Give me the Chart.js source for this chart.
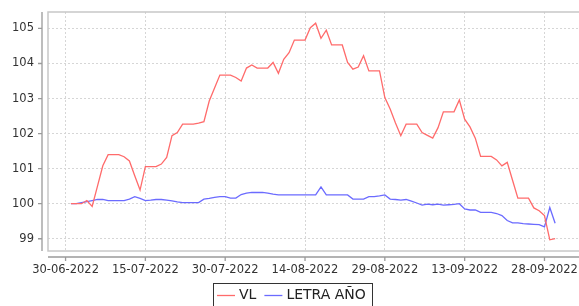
<!DOCTYPE html>
<html><head><meta charset="utf-8">
<script src="https://cdn.jsdelivr.net/npm/chart.js@4"></script>
<style>html,body{margin:0;padding:0;background:#fff;overflow:hidden}</style>
</head><body>
<canvas id="c" width="579" height="306"></canvas>
<script>
const dates = [
'01-07-2022','02-07-2022','03-07-2022','04-07-2022','05-07-2022','06-07-2022','07-07-2022','08-07-2022','09-07-2022','10-07-2022',
'11-07-2022','12-07-2022','13-07-2022','14-07-2022','15-07-2022','16-07-2022','17-07-2022','18-07-2022','19-07-2022','20-07-2022',
'21-07-2022','22-07-2022','23-07-2022','24-07-2022','25-07-2022','26-07-2022','27-07-2022','28-07-2022','29-07-2022','30-07-2022',
'31-07-2022','01-08-2022','02-08-2022','03-08-2022','04-08-2022','05-08-2022','06-08-2022','07-08-2022','08-08-2022','09-08-2022',
'10-08-2022','11-08-2022','12-08-2022','13-08-2022','14-08-2022','15-08-2022','16-08-2022','17-08-2022','18-08-2022','19-08-2022',
'20-08-2022','21-08-2022','22-08-2022','23-08-2022','24-08-2022','25-08-2022','26-08-2022','27-08-2022','28-08-2022','29-08-2022',
'30-08-2022','31-08-2022','01-09-2022','02-09-2022','03-09-2022','04-09-2022','05-09-2022','06-09-2022','07-09-2022','08-09-2022',
'09-09-2022','10-09-2022','11-09-2022','12-09-2022','13-09-2022','14-09-2022','15-09-2022','16-09-2022','17-09-2022','18-09-2022',
'19-09-2022','20-09-2022','21-09-2022','22-09-2022','23-09-2022','24-09-2022','25-09-2022','26-09-2022','27-09-2022','28-09-2022',
'29-09-2022','30-09-2022'];

const vl = [
100.00,100.00,100.00,100.09,99.92,100.50,101.08,101.40,101.40,101.40,
101.34,101.22,100.80,100.39,101.06,101.06,101.06,101.13,101.32,101.94,
102.03,102.27,102.27,102.27,102.30,102.34,102.93,103.30,103.67,103.67,
103.67,103.60,103.50,103.87,103.96,103.87,103.87,103.87,104.03,103.72,
104.12,104.31,104.67,104.67,104.67,105.02,105.15,104.72,104.95,104.53,
104.53,104.53,104.03,103.84,103.90,104.22,103.79,103.79,103.79,103.03,
102.70,102.30,101.94,102.27,102.27,102.27,102.03,101.95,101.87,102.17,
102.62,102.62,102.62,102.96,102.41,102.19,101.87,101.35,101.35,101.35,
101.25,101.08,101.18,100.67,100.16,100.16,100.16,99.88,99.80,99.66,
98.97,99.00];

const letraAno = [
100.00,100.00,100.03,100.06,100.09,100.12,100.12,100.09,100.09,100.09,
100.09,100.13,100.20,100.15,100.09,100.10,100.12,100.12,100.10,100.08,
100.05,100.03,100.03,100.03,100.03,100.13,100.15,100.18,100.20,100.20,
100.16,100.16,100.26,100.30,100.32,100.32,100.32,100.30,100.27,100.25,
100.25,100.25,100.25,100.25,100.25,100.25,100.25,100.48,100.25,100.25,
100.25,100.25,100.25,100.13,100.13,100.13,100.20,100.20,100.22,100.25,
100.13,100.12,100.10,100.12,100.07,100.02,99.96,99.99,99.97,99.99,
99.96,99.97,99.98,100.00,99.85,99.82,99.82,99.75,99.75,99.75,
99.72,99.66,99.52,99.45,99.45,99.43,99.42,99.41,99.40,99.34,
99.89,99.44];

const seriesNames = ['VL', 'LETRA AÑO'];
const xTickLabels = ['30-06-2022','15-07-2022','30-07-2022','14-08-2022','29-08-2022','13-09-2022','28-09-2022'];
const yTickValues = [99, 100, 101, 102, 103, 104, 105];

function toDay(s) {
  const p = s.split('-');
  return Date.UTC(+p[2], +p[1] - 1, +p[0]) / 86400000;
}
const base = toDay(xTickLabels[0]);
const dayOf = s => toDay(s) - base;
const xs = dates.map(dayOf);

const FONT = 'DejaVu Sans';
Chart.defaults.font.family = FONT;
Chart.defaults.font.size = 11.5;
Chart.defaults.color = '#333';

function zeroPad(s) { s.paddingTop = 0; s.paddingBottom = 0; s.paddingLeft = 0; s.paddingRight = 0; }

const framePlugin = {
  id: 'frame',
  beforeDatasetsDraw(chart) {
    const { ctx, chartArea: a, scales: { x, y } } = chart;
    ctx.save();
    ctx.strokeStyle = '#c8c8c8';
    ctx.lineWidth = 1.5;
    ctx.strokeRect(a.left, a.top, a.right - a.left + 2, a.bottom - a.top);
    ctx.strokeStyle = '#9a9a9a';
    ctx.lineWidth = 1.3;
    ctx.beginPath();
    const ax = a.left - 6;
    ctx.moveTo(ax, a.top); ctx.lineTo(ax, a.bottom);
    y.ticks.forEach(t => { const py = y.getPixelForValue(t.value); ctx.moveTo(ax - 4, py); ctx.lineTo(ax, py); });
    const ay = a.bottom + 6;
    ctx.moveTo(a.left, ay); ctx.lineTo(a.right + 2, ay);
    x.ticks.forEach(t => { const px = x.getPixelForValue(t.value); ctx.moveTo(px, ay); ctx.lineTo(px, ay + 4); });
    ctx.stroke();
    ctx.restore();
  }
};

const legendPlugin = {
  id: 'boxLegend',
  afterDraw(chart) {
    const ctx = chart.ctx;
    ctx.save();
    ctx.font = '14px "' + FONT + '"';
    const items = chart.data.datasets.map(ds => ({ label: ds.label, color: ds.borderColor, w: ctx.measureText(ds.label).width }));
    const pad = 4, line = 18, gap = 4, between = 8;
    let total = pad;
    items.forEach((it, i) => { total += line + gap + it.w + (i < items.length - 1 ? between : pad + 2); });
    let x = Math.round(292.5 - total / 2);
    const top = 283.5, cy = 295.5;
    ctx.strokeStyle = '#333';
    ctx.lineWidth = 1;
    ctx.strokeRect(x + 0.5, top, Math.round(total), 40);
    x += pad;
    ctx.textBaseline = 'middle';
    items.forEach(it => {
      ctx.strokeStyle = it.color; ctx.lineWidth = 1.3;
      ctx.beginPath(); ctx.moveTo(x, cy); ctx.lineTo(x + line, cy); ctx.stroke();
      x += line + gap;
      ctx.fillStyle = '#222';
      ctx.fillText(it.label, x, cy);
      x += it.w + between;
    });
    ctx.restore();
  }
};

new Chart(document.getElementById('c'), {
  type: 'line',
  data: {
    datasets: [
      { label: seriesNames[0], data: xs.map((d, i) => ({ x: d, y: vl[i] })), borderColor: '#ff6b6b', borderWidth: 1.3, pointRadius: 0, tension: 0, fill: false },
      { label: seriesNames[1], data: xs.map((d, i) => ({ x: d, y: letraAno[i] })), borderColor: '#6b6bff', borderWidth: 1.3, pointRadius: 0, tension: 0, fill: false }
    ]
  },
  options: {
    responsive: false,
    animation: false,
    devicePixelRatio: 1,
    layout: { padding: { top: 12, right: 1, left: 0, bottom: 0 } },
    plugins: { legend: { display: false }, tooltip: { enabled: false } },
    scales: {
      x: {
        type: 'linear',
        min: -3.3, max: 96.3,
        afterBuildTicks: s => { s.ticks = xTickLabels.map(l => ({ value: dayOf(l) })); },
        afterFit: s => { s.height = 55; zeroPad(s); },
        ticks: {
          autoSkip: false, maxRotation: 0, padding: 12,
          callback: v => { const i = xTickLabels.findIndex(l => dayOf(l) === v); return i >= 0 ? xTickLabels[i] : ''; }
        },
        grid: { color: '#d6d6d6', lineWidth: 1, drawTicks: false },
        border: { display: false, dash: [2, 2] }
      },
      y: {
        type: 'linear',
        min: 98.65, max: 105.47,
        afterBuildTicks: s => { s.ticks = yTickValues.map(v => ({ value: v })); },
        afterFit: s => { s.width = 48; zeroPad(s); },
        ticks: { padding: 14, callback: v => String(v) },
        grid: { color: '#d6d6d6', lineWidth: 1, drawTicks: false },
        border: { display: false, dash: [2, 2] }
      }
    }
  },
  plugins: [framePlugin, legendPlugin]
});
</script>
</body></html>
